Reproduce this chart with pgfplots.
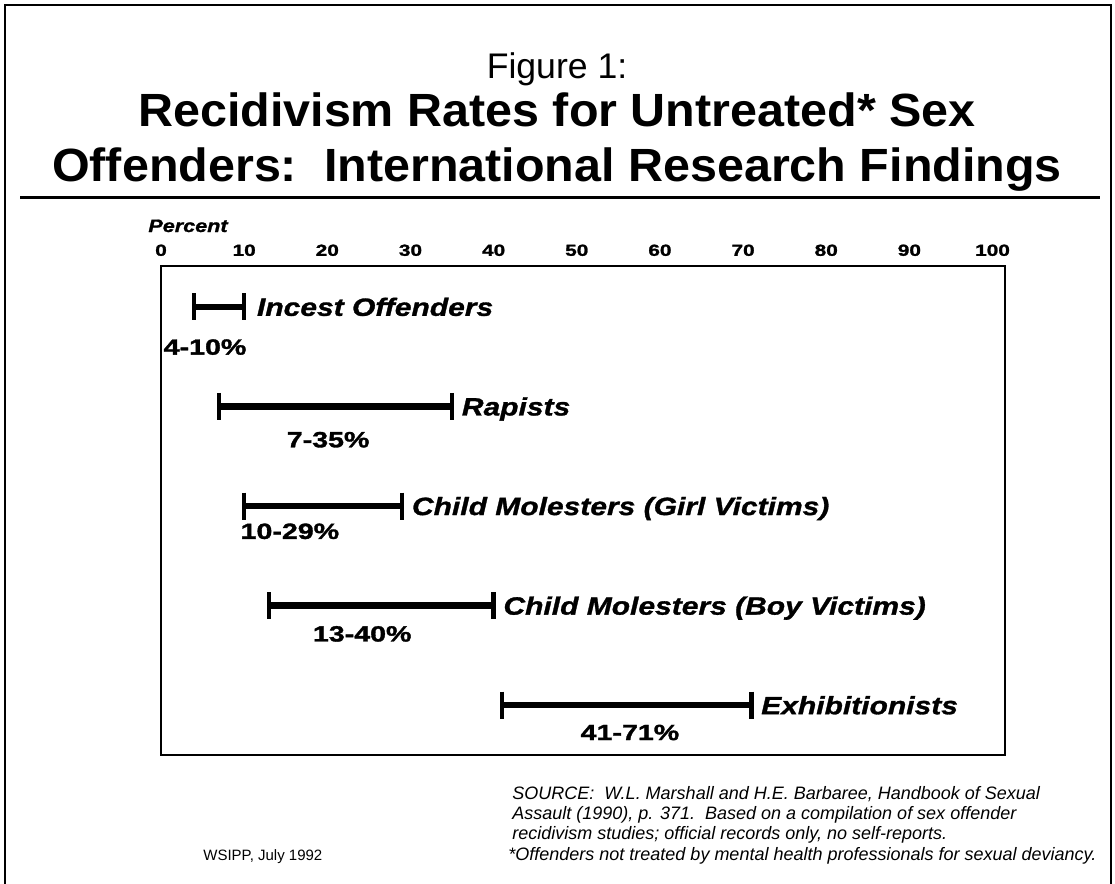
\documentclass[border=0pt]{standalone}
\usepackage{pgfplots}
\pgfplotsset{compat=1.18}
\usepackage{fontspec}
\setmainfont{Liberation Sans}
\newfontfamily\widefont[FakeStretch=1.3,FakeBold=1.5]{Liberation Sans}
\newfontfamily\catfamily[FakeStretch=1.2,FakeBold=1.2]{Liberation Sans}
\newfontfamily\titlefamily[FakeStretch=1.04]{Liberation Sans}
\tikzset{
  catlabel/.style={anchor=base west, yshift=-4.5pt, font=\catfamily\bfseries\itshape\fontsize{12.5}{14}\selectfont},
  rangelabel/.style={anchor=base, inner sep=0pt, font=\widefont\bfseries\fontsize{11}{12}\selectfont},
  rangebar/.style={black, line width=3.2pt, mark=|, mark size=6.75pt, mark options={line width=2.2pt, solid}},
}
\begin{document}
\begin{tikzpicture}
\useasboundingbox (0,0) rectangle (557.5pt,-442pt);
\begin{scope}[x=0.5pt,y=-0.5pt]
\draw[line width=1.2pt] (5,884) -- (5,5) -- (1111,5) -- (1111,884);
\node[anchor=base, font=\fontsize{17.8}{20}\selectfont] at (557,78) {Figure 1:};
\node[anchor=base, font=\titlefamily\bfseries\fontsize{23.3}{26}\selectfont] at (557,126) {Recidivism Rates for Untreated* Sex};
\node[anchor=base, font=\titlefamily\bfseries\fontsize{23.3}{26}\selectfont] at (557,181) {Offenders:\ \ International Research Findings};
\draw[line width=1.5pt] (20,197) -- (1100,197);
\node[anchor=base west, inner sep=0pt, font=\catfamily\bfseries\itshape\fontsize{9}{10}\selectfont] at (148,232) {Percent};
\node[anchor=base west, inner sep=0pt, font=\itshape\fontsize{9}{10}\selectfont] at (512,799) {SOURCE:\ \ W.L. Marshall and H.E. Barbaree, Handbook of Sexual};
\node[anchor=base west, inner sep=0pt, font=\itshape\fontsize{9}{10}\selectfont] at (512,819) {Assault (1990), p. 371.\ \ Based on a compilation of sex offender};
\node[anchor=base west, inner sep=0pt, font=\itshape\fontsize{9}{10}\selectfont] at (512,839) {recidivism studies; official records only, no self-reports.};
\node[anchor=base west, inner sep=0pt, font=\itshape\fontsize{9}{10}\selectfont] at (508,860) {*Offenders not treated by mental health professionals for sexual deviancy.};
\node[anchor=base west, inner sep=0pt, font=\fontsize{7.5}{10}\selectfont] at (203,860) {WSIPP, July 1992};
\end{scope}
\begin{axis}[
  scale only axis, width=422pt, height=244.5pt,
  at={(80.5pt,-133pt)}, anchor=north west,
  xmin=0, xmax=101.5, ymin=0.59, ymax=5.5, y dir=reverse,
  xtick={0,10,...,100}, xticklabel pos=upper, major tick length=0pt,
  ytick=\empty,
  axis line style={line width=1pt},
  /pgf/number format/assume math mode=true,
  xticklabel style={font=\widefont\bfseries\fontsize{8}{9}\selectfont, yshift=1.5pt},
  clip=false,
]
\addplot[rangebar] coordinates {(4,1) (10,1)} node[catlabel, pos=1, xshift=1.5pt] {Incest Offenders};
\addplot[rangebar] coordinates {(7,2) (35,2)} node[catlabel, pos=1] {Rapists};
\addplot[rangebar] coordinates {(10,3) (29,3)} node[catlabel, pos=1] {Child Molesters (Girl Victims)};
\addplot[rangebar] coordinates {(13,4) (40,4)} node[catlabel, pos=1] {Child Molesters (Boy Victims)};
\addplot[rangebar] coordinates {(41,5) (71,5)} node[catlabel, pos=1] {Exhibitionists};
\node[rangelabel] at (axis cs:5.3,1.48) {4-10\%};
\node[rangelabel] at (axis cs:20.1,2.41) {7-35\%};
\node[rangelabel] at (axis cs:15.5,3.33) {10-29\%};
\node[rangelabel] at (axis cs:24.2,4.36) {13-40\%};
\node[rangelabel] at (axis cs:56.4,5.35) {41-71\%};
\end{axis}
\end{tikzpicture}
\end{document}
